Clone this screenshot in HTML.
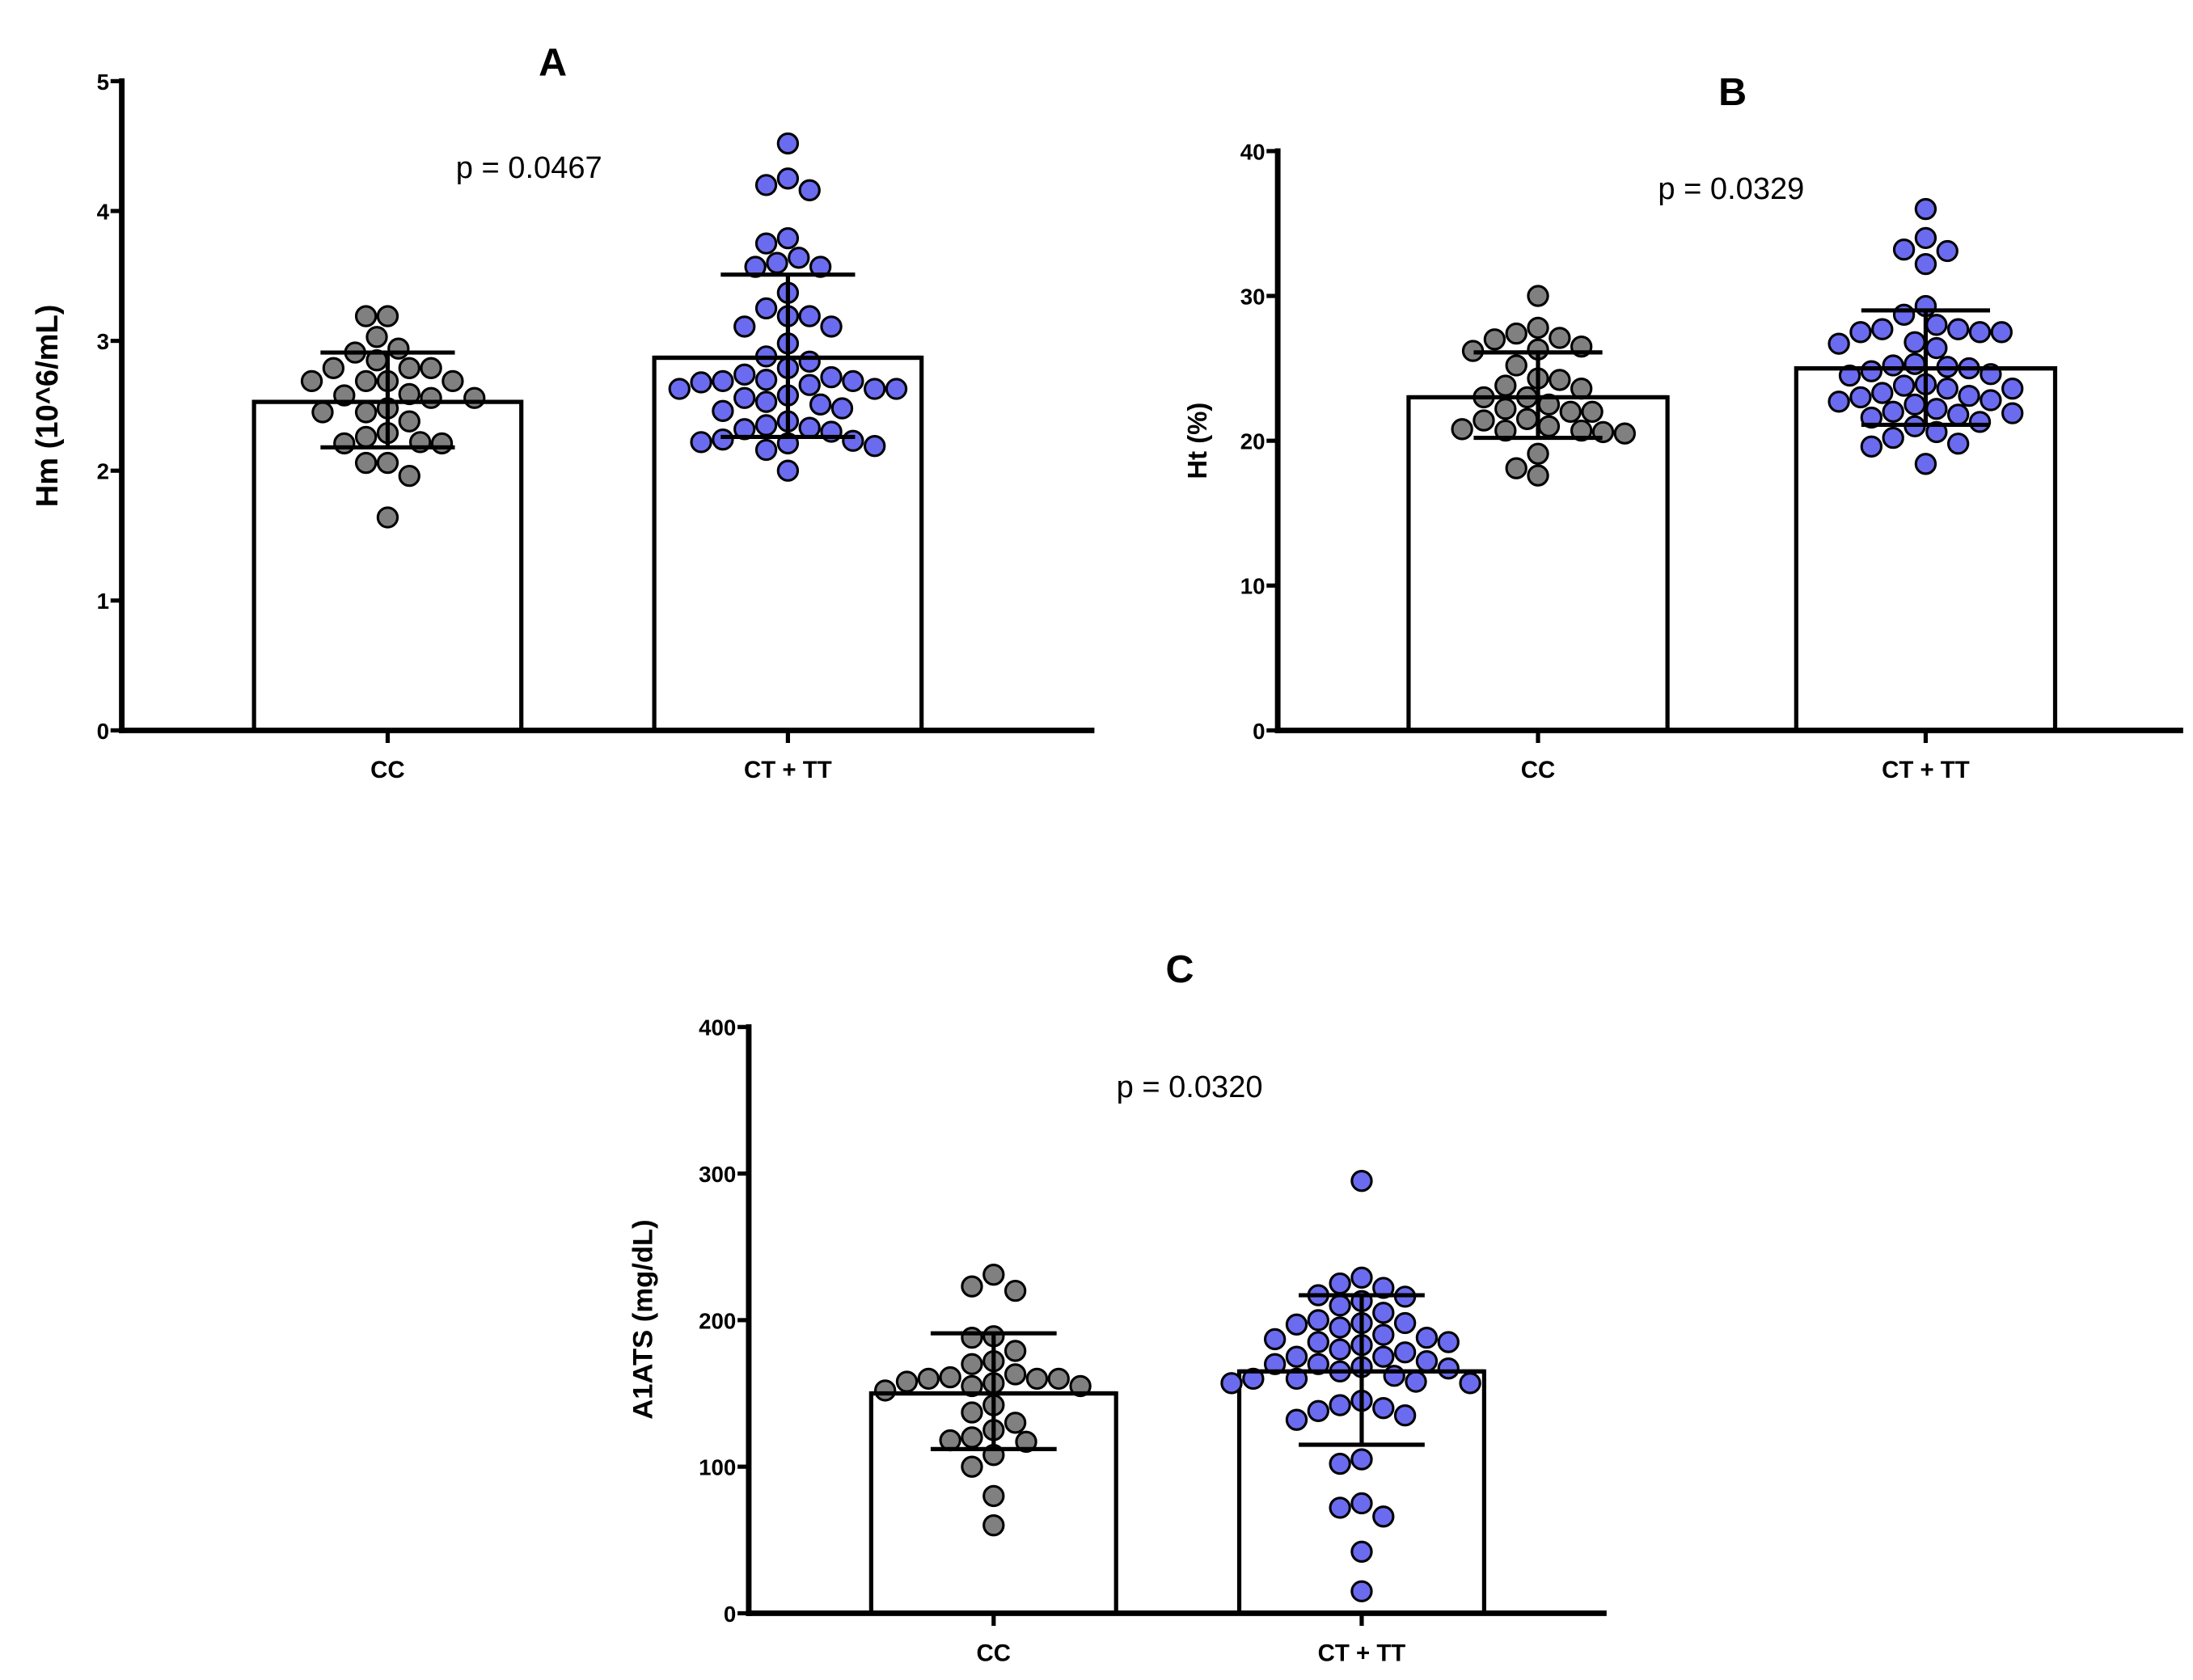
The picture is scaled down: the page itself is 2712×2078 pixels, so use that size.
<!DOCTYPE html>
<html><head><meta charset="utf-8"><style>
html,body{margin:0;padding:0;background:#fff;}
svg{display:block;}
text{font-family:"Liberation Sans",Arial,sans-serif;}
</style></head><body>
<svg id="fig" width="2712" height="2078" viewBox="0 0 1567 1200.7" xmlns="http://www.w3.org/2000/svg"></svg>
<script>
const categories = ["CC", "CT + TT"];
const panelTitles = ["A", "B", "C"];
const pValues = ["p = 0.0467", "p = 0.0329", "p = 0.0320"];
const yTitles = ["Hm  (10^6/mL)", "Ht (%)", "A1ATS (mg/dL)"];
const ticksA = [0, 1, 2, 3, 4, 5];
const ticksB = [0, 10, 20, 30, 40];
const ticksC = [0, 100, 200, 300, 400];
const meansA = [2.53, 2.87];
const sdLowA = [2.18, 2.26];
const sdHighA = [2.91, 3.51];
const meansB = [23.0, 25.0];
const sdLowB = [20.2, 21.1];
const sdHighB = [26.1, 29.0];
const meansC = [150, 165];
const sdLowC = [112, 115];
const sdHighC = [191, 217];
const ccA = [3.19,3.19,3.03,2.94,2.91,2.85,2.79,2.79,2.79,2.69,2.69,2.69,2.69,2.59,2.58,2.56,2.56,2.45,2.45,2.48,2.38,2.29,2.26,2.22,2.21,2.21,2.06,2.06,1.96,1.64];
const ctA = [4.52,4.25,4.2,4.16,3.79,3.75,3.64,3.6,3.57,3.57,3.37,3.25,3.19,3.19,3.11,3.11,2.98,2.88,2.84,2.79,2.74,2.72,2.70,2.69,2.69,2.68,2.66,2.63,2.63,2.63,2.58,2.56,2.53,2.51,2.48,2.46,2.38,2.35,2.33,2.32,2.30,2.24,2.23,2.22,2.21,2.19,2.16,2.0];
const ccB = [30,27.4,27.1,26.5,27.0,26.2,27.8,26.3,25.2,23.8,23.6,23.0,23.0,22.5,22.2,22.0,22.0,24.2,24.3,21.5,21.4,21.0,20.7,20.7,20.6,20.5,20.8,19.1,18.1,17.6];
const ctB = [36,34,33.2,33.1,32.2,29.3,28.7,28,27.7,27.5,27.7,27.5,27.5,26.8,26.7,26.4,25.3,25.2,25.1,25.0,24.8,24.6,24.5,23.9,23.8,23.6,23.6,23.3,23.1,23.0,22.8,22.7,22.5,22.2,22.0,21.9,21.8,21.6,21.3,21.0,20.6,20.2,19.8,19.6,18.4];
const ccC = [231,223,220,189,188,179,172,170,163,161,160,160,160,158,157,155,155,152,142,137,130,125,120,118,117,108,100,80,60];
const ctC = [295,229,225,222,217,216,213,210,205,200,198,198,197,195,190,188,187,185,185,183,180,178,175,175,172,170,170,168,167,165,162,160,160,158,157,157,145,142,140,138,135,132,105,102,75,72,66,42,15];

const NS = "http://www.w3.org/2000/svg";
const svg = document.getElementById("fig");
function mk(tag, attrs, parent, txt){
  const e = document.createElementNS(NS, tag);
  for (const k in attrs) e.setAttribute(k, attrs[k]);
  if (txt !== undefined) e.textContent = txt;
  (parent || svg).appendChild(e);
  return e;
}
function swarm(vals, yf, r){
  const placed = [];
  const order = vals.map((v,i)=>i).sort((a,b)=>vals[b]-vals[a]);
  const out = new Array(vals.length);
  const d = 2*r + 1.5;
  order.forEach(i=>{
    const y = yf(vals[i]);
    let chosen = 0;
    for (let k=0;k<60;k++){
      const off = (k%2===0?1:-1)*Math.ceil(k/2)*d*0.5*(k===0?0:1);
      let ok = true;
      for (const p of placed){ if (Math.hypot(p[0]-off,p[1]-y) < d-0.2){ ok=false; break; } }
      if (ok){ chosen = off; break; }
    }
    placed.push([chosen,y]);
    out[i] = [chosen,y];
  });
  return out;
}
function panel(cfg){
  const g = mk("g", {});
  
  
  const y = v => cfg.y0 - (v - 0) / (cfg.ticks[cfg.ticks.length-1]) * (cfg.y0 - cfg.yTop);
  const t = mk("text", {x: cfg.titleX, y: cfg.titleY, "text-anchor":"middle", "font-size":28, "font-weight":"bold"}, g, cfg.title);
  
  
  const p = mk("text", {x: cfg.pX, y: cfg.pY, "text-anchor":"middle", "font-size":22}, g, cfg.p);
  
  
  const yt = mk("text", {x: 0, y: 0, "text-anchor":"middle", "font-size":cfg.ytSize, "font-weight":"bold", transform:`translate(${cfg.ytX},${cfg.ytY}) rotate(-90)`}, g, cfg.yTitle);
  
  
  cfg.centers.forEach((cx,i)=>{
    const top = y(cfg.means[i]);
    const b = mk("rect", {x: cx - cfg.bw/2, y: top, width: cfg.bw, height: cfg.y0 - top, fill:"#fff", stroke:"#000", "stroke-width":3}, g);
    
    
  });
  cfg.series.forEach((vals,i)=>{
    const pos = swarm(vals, y, 7);
    pos.forEach(pp=>{
      const c = mk("circle", {cx: cfg.centers[i] + pp[0], cy: pp[1], r: 7, fill: i===0?"#808080":"#6b6bef", stroke:"#000", "stroke-width":1.8}, g);
      
      
    });
  });
  cfg.centers.forEach((cx,i)=>{
    const e = mk("path", {d:`M${cx},${y(cfg.lo[i])}V${y(cfg.hi[i])}M${cx-cfg.cap},${y(cfg.lo[i])}H${cx+cfg.cap}M${cx-cfg.cap},${y(cfg.hi[i])}H${cx+cfg.cap}M${cx-cfg.bw/2},${y(cfg.means[i])}H${cx+cfg.bw/2}`, stroke:"#000", "stroke-width":3, fill:"none"}, g);
    
    
  });
  const ya = mk("line", {x1: cfg.ax, y1: cfg.yTop-2, x2: cfg.ax, y2: cfg.y0+2, stroke:"#000", "stroke-width":4}, g);
  
  
  const xa = mk("line", {x1: cfg.ax-2, y1: cfg.y0, x2: cfg.xEnd, y2: cfg.y0, stroke:"#000", "stroke-width":4}, g);
  
  
  cfg.ticks.forEach(tv=>{
    mk("line", {x1: cfg.ax-8, y1: y(tv), x2: cfg.ax, y2: y(tv), stroke:"#000", "stroke-width":3}, g);
    const tl = mk("text", {x: cfg.ax-9, y: y(tv)+6, "text-anchor":"end", "font-size":16, "font-weight":"bold"}, g, String(tv));
    
    
  });
  cfg.centers.forEach((cx,i)=>{
    mk("line", {x1: cx, y1: cfg.y0, x2: cx, y2: cfg.y0+9, stroke:"#000", "stroke-width":3}, g);
    const cl = mk("text", {x: cx, y: cfg.y0+34, "text-anchor":"middle", "font-size":17, "font-weight":"bold"}, g, categories[i]);
    
    
  });
}
panel({title:panelTitles[0], titleX:395, titleY:54, p:pValues[0], pX:378, pY:127, yTitle:yTitles[0], ytX:41, ytY:290, ytSize:22,
  ax:87, y0:522, yTop:58, xEnd:782, ticks:ticksA, centers:[277,563], bw:191, cap:48,
  means:meansA, lo:sdLowA, hi:sdHighA, series:[ccA, ctA]});
panel({title:panelTitles[1], titleX:1238, titleY:75, p:pValues[1], pX:1237, pY:142, yTitle:yTitles[1], ytX:862, ytY:315, ytSize:19,
  ax:913, y0:522, yTop:108, xEnd:1560, ticks:ticksB, centers:[1099,1376], bw:185, cap:46,
  means:meansB, lo:sdLowB, hi:sdHighB, series:[ccB, ctB]});
panel({title:panelTitles[2], titleX:843, titleY:702, p:pValues[2], pX:850, pY:784, yTitle:yTitles[2], ytX:466, ytY:943, ytSize:20,
  ax:535, y0:1153, yTop:734, xEnd:1148, ticks:ticksC, centers:[710,973], bw:175, cap:45,
  means:meansC, lo:sdLowC, hi:sdHighC, series:[ccC, ctC]});
</script>
</body></html>
